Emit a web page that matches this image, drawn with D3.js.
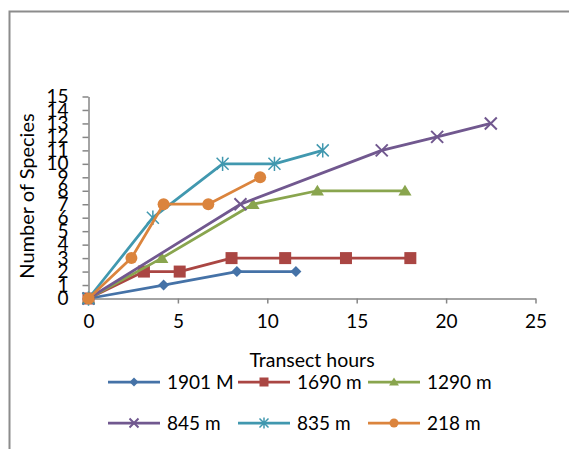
<!DOCTYPE html>
<html>
<head>
<meta charset="utf-8">
<script src="https://cdn.jsdelivr.net/npm/d3@7.9.0/dist/d3.min.js"></script>
<style>
  body { margin: 0; background: #fff; }
  svg { display: block; font-family: Lato, 'Open Sans', sans-serif; }
</style>
</head>
<body>
<svg id="chart" width="569" height="449"></svg>
<script>
// series: [hours, species]
const s1901 = [[0, 0], [4.2, 1], [8.3, 2], [11.6, 2]];
const s1690 = [[0, 0], [3.1, 2], [5.1, 2], [8.0, 3], [11.0, 3], [14.4, 3], [18.0, 3]];
const s1290 = [[0, 0], [4.1, 3], [9.2, 7], [12.8, 8], [17.7, 8]];
const s845 = [[0, 0], [8.5, 7], [16.4, 11], [19.5, 12], [22.5, 13]];
const s835 = [[0, 0], [3.6, 6], [7.5, 10], [10.4, 10], [13.1, 11]];
const s218 = [[0, 0], [2.4, 3], [4.2, 7], [6.7, 7], [9.6, 9]];

const seriesNames = ['1901 M', '1690 m', '1290 m', '845 m', '835 m', '218 m'];
const seriesData = [s1901, s1690, s1290, s845, s835, s218];
const colors = ['#4572A7', '#AA4643', '#89A54E', '#71588F', '#4198AF', '#DB843D'];
const markers = ['diamond', 'square', 'triangle', 'cross', 'star', 'circle'];

const xTicks = [0, 5, 10, 15, 20, 25];
const yTicks = d3.range(0, 16);

const svg = d3.select('#chart');

// outer frame (chart is cropped on the right and bottom)
svg.append('path')
  .attr('d', 'M9.5,600 V11.5 H600')
  .attr('fill', 'none')
  .attr('stroke', '#8c8c8c')
  .attr('stroke-width', 2);

const x = d3.scaleLinear().domain([0, 25]).range([88.5, 535.5]);
const y = d3.scaleLinear().domain([0, 15]).range([298.5, 96.5]);

const xAxis = svg.append('g')
  .attr('transform', `translate(0,${y(0)})`)
  .call(d3.axisBottom(x).tickValues(xTicks).tickSize(5).tickSizeOuter(0).tickPadding(11));
const yAxis = svg.append('g')
  .attr('transform', `translate(${x(0)},0)`)
  .call(d3.axisLeft(y).tickValues(yTicks).tickSize(6).tickSizeOuter(0).tickPadding(14));

[xAxis, yAxis].forEach(g => {
  g.select('.domain').attr('stroke', '#868686').attr('stroke-width', 1.5);
  g.selectAll('.tick line').attr('stroke', '#868686').attr('stroke-width', 1.5);
  g.selectAll('.tick text').attr('fill', '#000').style('font-size', '19px').style('font-family', 'Lato, sans-serif');
});

svg.append('text')
  .attr('transform', 'translate(34,196) rotate(-90)')
  .attr('text-anchor', 'middle')
  .style('font-size', '20px')
  .text('Number of Species');

svg.append('text')
  .attr('x', 312)
  .attr('y', 367)
  .attr('text-anchor', 'middle')
  .style('font-size', '19.5px')
  .text('Transect hours');

function drawMarker(g, kind, color, size) {
  const r = size / 2;
  if (kind === 'diamond') {
    g.append('path').attr('d', `M0,${-r}L${r},0L0,${r}L${-r},0Z`).attr('fill', color);
  } else if (kind === 'square') {
    g.append('rect').attr('x', -r).attr('y', -r).attr('width', size).attr('height', size).attr('fill', color);
  } else if (kind === 'triangle') {
    g.append('path').attr('d', `M0,${-r}L${r * 1.1},${r * 0.8}L${-r * 1.1},${r * 0.8}Z`).attr('fill', color);
  } else if (kind === 'circle') {
    g.append('circle').attr('r', r).attr('fill', color);
  } else if (kind === 'cross') {
    g.append('path').attr('d', `M${-r},${-r}L${r},${r}M${-r},${r}L${r},${-r}`)
      .attr('stroke', color).attr('stroke-width', 2);
  } else if (kind === 'star') {
    g.append('path')
      .attr('d', `M${-r},${-r}L${r},${r}M${-r},${r}L${r},${-r}M0,${-r * 1.2}V${r * 1.2}`)
      .attr('stroke', color).attr('stroke-width', 1.5);
  }
}

const line = d3.line().x(d => x(d[0])).y(d => y(d[1]));

seriesData.forEach((data, i) => {
  svg.append('path')
    .datum(data)
    .attr('d', line)
    .attr('fill', 'none')
    .attr('stroke', colors[i])
    .attr('stroke-width', 2.75)
    .attr('stroke-linejoin', 'round');
  data.forEach(d => {
    const g = svg.append('g').attr('transform', `translate(${x(d[0])},${y(d[1])})`);
    drawMarker(g, markers[i], colors[i], markers[i] === 'diamond' ? 11 : 12);
  });
});

// legend, two rows of three
const legend = svg.append('g');
seriesNames.forEach((name, i) => {
  const lx = 108 + (i % 3) * 130;
  const ly = i < 3 ? 382 : 423;
  const g = legend.append('g').attr('transform', `translate(${lx},${ly})`);
  g.append('line').attr('x1', 0).attr('x2', 52).attr('y1', 0).attr('y2', 0)
    .attr('stroke', colors[i]).attr('stroke-width', 2.75);
  const m = g.append('g').attr('transform', 'translate(26,0)');
  drawMarker(m, markers[i], colors[i], 9);
  g.append('text')
    .attr('x', 59)
    .attr('y', 0)
    .attr('dy', '0.35em')
    .style('font-size', '19px')
    .text(name);
});
</script>
</body>
</html>
